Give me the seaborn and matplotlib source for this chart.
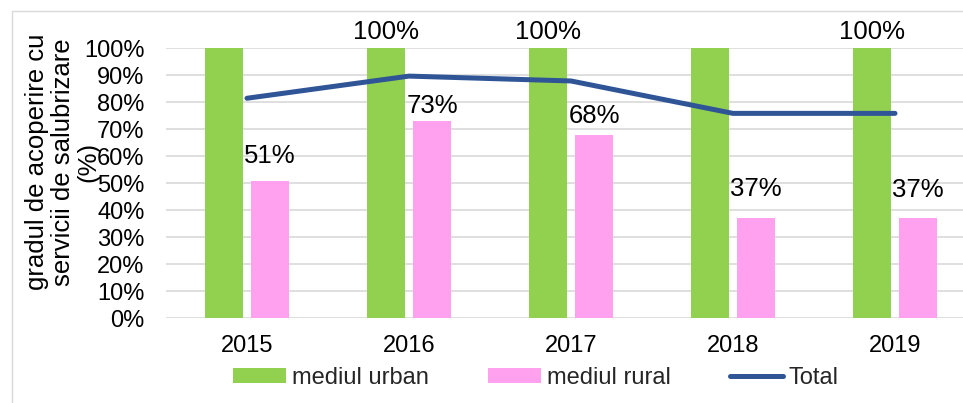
import matplotlib
matplotlib.use("Agg")
import matplotlib.pyplot as plt
import seaborn as sns
import numpy as np
import pandas as pd
from matplotlib.patches import Patch, Rectangle
from matplotlib.lines import Line2D
from matplotlib.ticker import FuncFormatter

# ---- data ----
years = ["2015", "2016", "2017", "2018", "2019"]
urban = [1.00, 1.00, 1.00, 1.00, 1.00]
rural = [0.51, 0.73, 0.68, 0.37, 0.37]
total = [0.815, 0.897, 0.879, 0.759, 0.759]
urban_labels = ["", "100%", "100%", "", "100%"]
rural_labels = ["51%", "73%", "68%", "37%", "37%"]
series_names = ["mediul urban", "mediul rural", "Total"]
ylabel = "gradul de acoperire cu\nservicii de salubrizare\n(%)"

# ---- style ----
GREEN = "#92D050"
PINK = "#FFA1EF"
BLUE = "#2F5597"
GRID = "#D9D9D9"
FS = 17

sns.set_style("white")
plt.rcParams["font.family"] = ["Liberation Sans", "DejaVu Sans"]

W, H = 963, 403
fig = plt.figure(figsize=(W / 100, H / 100), dpi=100)
ax = fig.add_axes([166 / W, (H - 318.3) / H, 810 / W, 270 / H])

df = pd.DataFrame({
    "year": years * 2,
    "value": urban + rural,
    "series": [series_names[0]] * len(years) + [series_names[1]] * len(years),
})

sns.barplot(data=df, x="year", y="value", hue="series", order=years,
            hue_order=series_names[:2], palette=[GREEN, PINK], saturation=1,
            width=0.572, gap=0.18, legend=False, ax=ax, linewidth=0)

sns.pointplot(x=years, y=total, order=years, color=BLUE, markers="",
              errorbar=None, ax=ax, zorder=5)
for ln in ax.lines:
    ln.set_linewidth(3.6)
    ln.set_solid_capstyle("round")
    ln.set_solid_joinstyle("round")

# data labels
label_size = 18.5
urban_off = [12, 12, 12, 12, 12]
rural_off = [18, 10.8, 13.7, 20.9, 20.2]
for cont, labels, offs in [(ax.containers[0], urban_labels, urban_off),
                           (ax.containers[1], rural_labels, rural_off)]:
    for bar, lab, off in zip(cont.patches, labels, offs):
        if not lab:
            continue
        ax.annotate(lab, xy=(bar.get_x() + bar.get_width() / 2, bar.get_height()),
                    xytext=(0, off), textcoords="offset points",
                    ha="center", va="center", fontsize=label_size,
                    color="#000000", annotation_clip=False)

ax.set_xlim(-0.5, 4.5)
ax.set_ylim(0, 1.0)
ax.set_yticks(np.arange(0, 1.01, 0.1))
ax.yaxis.set_major_formatter(FuncFormatter(lambda v, p: f"{v*100:.0f}%"))
ax.grid(axis="y", color=GRID, linewidth=1.2)
ax.grid(axis="x", visible=False)
ax.set_axisbelow(True)
for s in ax.spines.values():
    s.set_visible(False)
ax.tick_params(axis="y", length=0, pad=15.5, labelsize=FS, colors="#000000")
ax.tick_params(axis="x", length=0, pad=12, labelsize=FS, colors="#000000")
ax.set_xlabel("")
ax.set_ylabel(ylabel, fontsize=18.5, linespacing=1.08, color="#000000")
ax.yaxis.label.set_va("center")
ax.yaxis.label.set_ha("center")
ax.yaxis.set_label_coords((63 - 166) / 810, (318.3 - 162) / 270)

handles = [Patch(facecolor=GREEN, edgecolor="none"),
           Patch(facecolor=PINK, edgecolor="none"),
           Line2D([0], [0], color=BLUE, linewidth=3.6, solid_capstyle="round")]
fig.legend(handles, series_names, loc="center", bbox_to_anchor=(536 / W, 0.062),
           ncol=3, frameon=False, fontsize=FS, handlelength=2.25,
           handleheight=0.6, handletextpad=0.25, columnspacing=2.5)

# outer chart frame
fig.patches.append(Rectangle((11.5 / W, -0.1), 1.2, (H - 10.5) / H + 0.1,
                             transform=fig.transFigure, fill=False,
                             edgecolor=GRID, linewidth=1, zorder=0))

fig.savefig("out.png", dpi=100)
